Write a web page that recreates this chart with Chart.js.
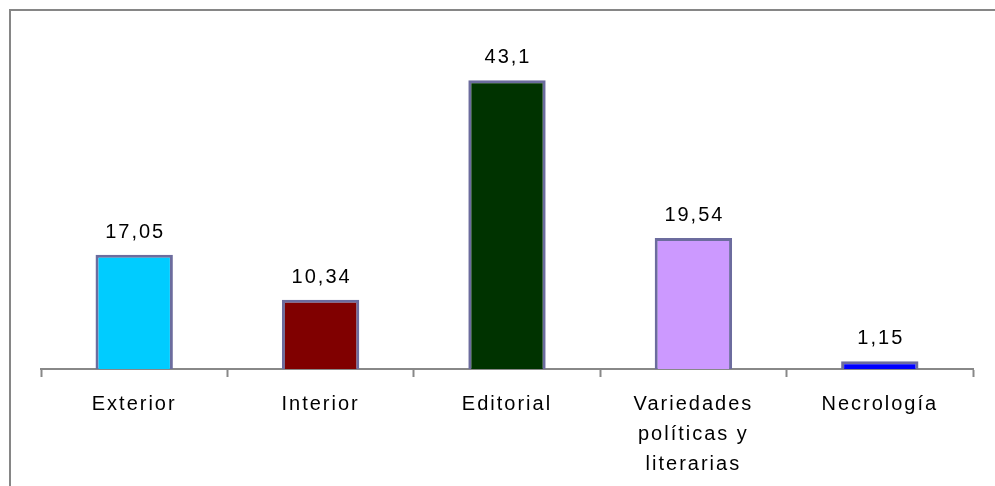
<!DOCTYPE html>
<html>
<head>
<meta charset="utf-8">
<script src="https://cdn.jsdelivr.net/npm/chart.js@4/dist/chart.umd.min.js"></script>
<style>
  html, body { margin: 0; padding: 0; background: #fff; overflow: hidden; }
  #wrap { position: relative; width: 995px; height: 486px; }
  #frame {
    position: absolute; left: 9px; top: 9px; width: 1100px; height: 600px;
    border-left: 2px solid #868686; border-top: 2px solid #868686;
  }
  canvas { position: absolute; left: 0; top: 0; }
</style>
</head>
<body>
<div id="wrap">
  <div id="frame"></div>
  <canvas id="chart" width="995" height="486"></canvas>
</div>
<script>
const categories = ["Exterior", "Interior", "Editorial", ["Variedades", "políticas y", "literarias"], "Necrología"]
const values = [17.05, 10.34, 43.1, 19.54, 1.15]
const valueLabels = ["17,05", "10,34", "43,1", "19,54", "1,15"]
const barColors = ["#00CCFF", "#800000", "#003300", "#CC99FF", "#0000FF"]

const FONT = "'Liberation Sans', Arial, sans-serif"

// canvas letter spacing, reset on every draw since resizing clears ctx state
const spacing = {
    id: "spacing",
    beforeDraw(chart){
        chart.ctx.letterSpacing = "2px"
    }
}

const valueTags = {
    id: "valueTags",
    afterDatasetsDraw(chart){
        const ctx = chart.ctx
        const meta = chart.getDatasetMeta(0)
        ctx.save()
        ctx.letterSpacing = "2px"
        ctx.font = "20px " + FONT
        ctx.fillStyle = "#000"
        ctx.textAlign = "center"
        ctx.textBaseline = "alphabetic"
        meta.data.forEach((bar, i) => {
            ctx.fillText(valueLabels[i], bar.x + 1, bar.y - 17)
        })
        ctx.restore()
    }
}

const context = document.getElementById("chart").getContext("2d")

new Chart(context, {
    type: "bar",
    data: {
        labels: categories,
        datasets: [
            {
                data: values,
                backgroundColor: barColors,
                borderColor: "#6C6C9E",
                borderWidth: 3,
                categoryPercentage: 1,
                barPercentage: 0.415,
            }
        ]
    },
    options: {
        responsive: false,
        animation: false,
        layout: { padding: { left: 41, right: 22, top: 34, bottom: 0 } },
        plugins: {
            legend: { display: false },
            tooltip: { enabled: false },
        },
        scales: {
            y: { display: false, min: 0, max: 50 },
            x: {
                afterFit(scale){ scale.height = 117 },
                border: { color: "#888", width: 2 },
                grid: {
                    offset: true,
                    drawOnChartArea: false,
                    drawTicks: true,
                    tickLength: 8,
                    tickWidth: 2,
                    tickColor: "#888",
                },
                ticks: {
                    color: "#000",
                    font: { family: FONT, size: 20, lineHeight: 1.5 },
                    padding: 12,
                    maxRotation: 0,
                    autoSkip: false,
                }
            }
        }
    },
    plugins: [spacing, valueTags]
})
</script>
</body>
</html>
